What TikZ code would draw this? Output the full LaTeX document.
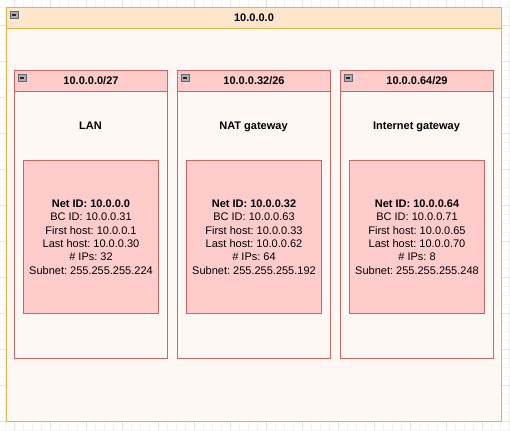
\documentclass[tikz,border=0pt]{standalone}
\usepackage{fontspec}
\setmainfont{Liberation Sans}
\frenchspacing
\definecolor{gridminor}{HTML}{F3F3F3}
\definecolor{gridmajor}{HTML}{E4E4E4}
\definecolor{outerstroke}{HTML}{E2B24A}
\definecolor{outerhead}{HTML}{FFE6CC}
\definecolor{bodyfill}{HTML}{FDF8F4}
\definecolor{redstroke}{HTML}{CF6562}
\definecolor{redfill}{HTML}{FFCCCC}
\definecolor{iconfill}{HTML}{A8AEB8}
\begin{document}
\begin{tikzpicture}[x=1pt,y=-1pt,
  panel/.style={draw=#1,line width=1pt,fill=bodyfill,anchor=north west,inner sep=0pt},
  head/.style={draw=#1,line width=1pt,anchor=north west,inner sep=0pt,font=\bfseries\fontsize{11}{13}\selectfont},
  innerbox/.style={draw=redstroke,line width=1pt,fill=redfill,anchor=north west,inner sep=0pt,minimum width=135pt,minimum height=153pt},
  info/.style={align=center,font=\fontsize{11}{13.3}\selectfont,inner sep=0pt},
  title/.style={font=\bfseries\fontsize{11}{13}\selectfont,inner sep=0pt,anchor=base},
  minus/.style={draw=gray!80!black,line width=0.5pt,fill=iconfill,minimum width=7.5pt,minimum height=7pt,inner sep=0pt,anchor=north west,
    path picture={\fill[black!85] ([xshift=1.5pt,yshift=-0.8pt]path picture bounding box.west) rectangle ([xshift=-1.5pt,yshift=0.8pt]path picture bounding box.east);}}]
\useasboundingbox (0,0) rectangle (510,430);
% background grid
\foreach \x in {5,14,...,510} \draw[gridminor,line width=0.6pt] (\x,0) -- (\x,430);
\foreach \y in {7,16,...,430} \draw[gridminor,line width=0.6pt] (0,\y) -- (510,\y);
\foreach \x in {14,50,...,510} \draw[gridmajor,line width=0.8pt] (\x,0) -- (\x,430);
\foreach \y in {25,61,...,430} \draw[gridmajor,line width=0.8pt] (0,\y) -- (510,\y);
% outer container
\node[panel=outerstroke,minimum width=495pt,minimum height=414pt] (outer) at (6,7) {};
\node[head=outerstroke,fill=outerhead,minimum width=495pt,minimum height=21pt] (outerhead) at (6,7) {10.0.0.0};
\node[minus] (outericon) at (10,11) {};
% subnet boxes
\foreach \n/\x/\cidr/\name/\net/\bc/\first/\last/\ips/\mask in {
  a/14/10.0.0.0\slash 27/LAN/10.0.0.0/10.0.0.31/10.0.0.1/10.0.0.30/32/255.255.255.224,
  b/177/10.0.0.32\slash 26/NAT gateway/10.0.0.32/10.0.0.63/10.0.0.33/10.0.0.62/64/255.255.255.192,
  c/340/10.0.0.64\slash 29/Internet gateway/10.0.0.64/10.0.0.71/10.0.0.65/10.0.0.70/8/255.255.255.248}{
  \node[panel=redstroke,minimum width=153pt,minimum height=288pt] (box\n) at (\x,70) {};
  \node[head=redstroke,fill=redfill,minimum width=153pt,minimum height=21pt] (head\n) at (\x,70) {\cidr};
  \node[minus] (icon\n) at (\x+4,74) {};
  \node[title] (title\n) at (\x+76.5,130) {\name};
  \node[innerbox] (inner\n) at (\x+9,160) {};
  \node[info] (info\n) at (inner\n.center) {\textbf{Net ID: \net}\\BC ID: \bc\\First host: \first\\Last host: \last\\\# IPs: \ips\\Subnet: \mask};
}
\end{tikzpicture}
\end{document}
